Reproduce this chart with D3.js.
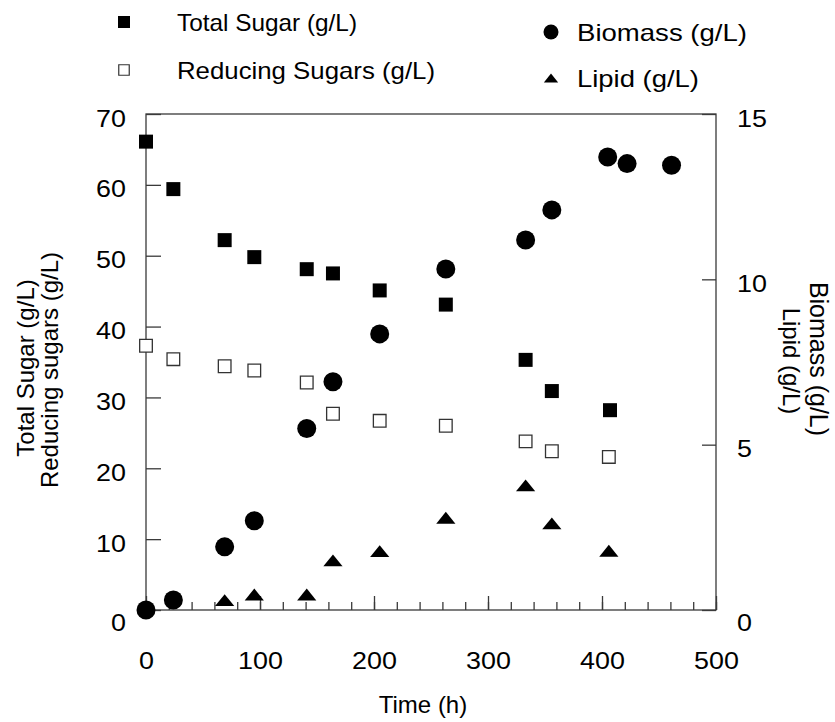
<!DOCTYPE html>
<html>
<head>
<meta charset="utf-8">
<script src="https://cdn.jsdelivr.net/npm/d3@7"></script>
<style>
  html, body { margin: 0; padding: 0; background: #fff; }
  svg text { font-family: "Liberation Sans", Arial, sans-serif; fill: #000; }
</style>
</head>
<body>
<svg id="chart" width="835" height="722"></svg>
<script>
// Fermentation time course: sugars on the left axis, biomass and lipid on the right axis
const totalSugarTime = [0, 24, 69, 95, 141, 164, 205, 263, 333, 356, 407];
const totalSugar     = [66.1, 59.4, 52.2, 49.8, 48.1, 47.5, 45.1, 43.1, 35.3, 30.9, 28.2];

const reducingTime   = [0, 24, 69, 95, 141, 164, 205, 263, 333, 356, 406];
const reducingSugars = [37.3, 35.4, 34.4, 33.8, 32.1, 27.7, 26.7, 26.0, 23.8, 22.4, 21.6];

const biomassTime    = [0, 24, 69, 95, 141, 164, 205, 263, 333, 356, 405, 422, 461];
const biomass        = [0.0, 0.3, 1.91, 2.7, 5.49, 6.9, 8.35, 10.31, 11.19, 12.1, 13.7, 13.5, 13.45];

const lipidTime      = [69, 95, 141, 164, 205, 263, 333, 356, 406];
const lipid          = [0.3, 0.47, 0.47, 1.5, 1.78, 2.79, 3.77, 2.62, 1.79];

const xMajorTicks  = [0, 100, 200, 300, 400, 500];
const xMinorTicks  = d3.range(0, 501, 20);
const yLeftTicks   = [0, 10, 20, 30, 40, 50, 60, 70];
const yRightTicks  = [0, 5, 10, 15];

const legendLeft  = ["Total Sugar (g/L)", "Reducing Sugars (g/L)"];
const legendRight = ["Biomass (g/L)", "Lipid (g/L)"];
const legendLeftWidth  = [180, 258];
const legendRightWidth = [170, 122];

const svg = d3.select("#chart");
const FONT = 24;
const DIGIT_STRETCH = 1.12;   // numerals are set slightly wide

const x  = d3.scaleLinear().domain([0, 500]).range([146, 716]);
const yL = d3.scaleLinear().domain([0, 70]).range([610, 114]);
const yR = d3.scaleLinear().domain([0, 15]).range([610, 114]);

// flat triangle marker
const flatTriangle = {
  draw(ctx, size) {
    const w = Math.sqrt(size) * 1.6, h = w * 0.62;
    ctx.moveTo(0, -h / 2);
    ctx.lineTo(w / 2, h / 2);
    ctx.lineTo(-w / 2, h / 2);
    ctx.closePath();
  }
};

// frame
const axisColor = "#3a3a3a";
svg.append("rect")
  .attr("x", x(0)).attr("y", yL(70))
  .attr("width", x(500) - x(0)).attr("height", yL(0) - yL(70))
  .attr("fill", "none").attr("stroke", axisColor).attr("stroke-width", 1.3);

function styleAxis(g) {
  g.select(".domain").remove();
  g.selectAll(".tick line").attr("stroke", axisColor).attr("stroke-width", 1.3);
  g.selectAll("text").attr("font-size", FONT).attr("font-family", "Liberation Sans, Arial, sans-serif").attr("fill", "#000")
    .each(function () {
      const t = d3.select(this);
      const tx = +(t.attr("x") || 0);
      t.attr("x", tx / DIGIT_STRETCH).attr("transform", `scale(${DIGIT_STRETCH},1)`);
    });
}

// x axis: minor and major ticks pointing inward
svg.append("g").attr("transform", `translate(0,${yL(0)})`)
  .call(d3.axisBottom(x).tickValues(xMinorTicks).tickSize(-8).tickFormat(""))
  .call(styleAxis);
svg.append("g").attr("transform", `translate(0,${yL(0)})`)
  .call(d3.axisBottom(x).tickValues(xMajorTicks).tickSize(-14).tickPadding(42).tickFormat(d3.format("d")))
  .call(styleAxis);

// left axis (the zero label sits a little lower, clear of the x axis)
svg.append("g").attr("transform", `translate(${x(0)},0)`)
  .call(d3.axisLeft(yL).tickValues(yLeftTicks).tickSize(-15).tickPadding(20).tickFormat(d3.format("d")))
  .call(styleAxis)
  .selectAll("text").attr("dy", d => d === 0 ? "0.85em" : "0.5em");

// right axis
svg.append("g").attr("transform", `translate(${x(500)},0)`)
  .call(d3.axisRight(yR).tickValues(yRightTicks).tickSize(-14).tickPadding(21).tickFormat(d3.format("d")))
  .call(styleAxis)
  .selectAll("text").attr("dy", d => d === 0 ? "0.85em" : "0.5em");

// axis titles
svg.append("text").attr("x", 423).attr("y", 713).attr("text-anchor", "middle")
  .attr("font-size", FONT).text("Time (h)");

svg.append("text").attr("transform", "translate(34,368) rotate(-90)").attr("text-anchor", "middle")
  .attr("font-size", FONT).text("Total Sugar (g/L)");
svg.append("text").attr("transform", "translate(58,370) rotate(-90)").attr("text-anchor", "middle")
  .attr("font-size", FONT).text("Reducing sugars (g/L)");

svg.append("text").attr("transform", "translate(810,359) rotate(90)").attr("text-anchor", "middle")
  .attr("font-size", 25).text("Biomass (g/L)");
svg.append("text").attr("transform", "translate(783,361) rotate(90)").attr("text-anchor", "middle")
  .attr("font-size", FONT).text("Lipid (g/L)");

// data markers
const plot = svg.append("g");

plot.selectAll(".ts").data(totalSugarTime.map((t, i) => [t, totalSugar[i]])).join("path")
  .attr("d", d3.symbol().type(d3.symbolSquare).size(196)())
  .attr("transform", d => `translate(${x(d[0])},${yL(d[1])})`)
  .attr("fill", "#000");

plot.selectAll(".rs").data(reducingTime.map((t, i) => [t, reducingSugars[i]])).join("path")
  .attr("d", d3.symbol().type(d3.symbolSquare).size(160)())
  .attr("transform", d => `translate(${x(d[0])},${yL(d[1])})`)
  .attr("fill", "#fff").attr("stroke", "#333").attr("stroke-width", 1.3);

plot.selectAll(".bm").data(biomassTime.map((t, i) => [t, biomass[i]])).join("circle")
  .attr("cx", d => x(d[0])).attr("cy", d => yR(d[1])).attr("r", 9.5)
  .attr("fill", "#000");

plot.selectAll(".lp").data(lipidTime.map((t, i) => [t, lipid[i]])).join("path")
  .attr("d", d3.symbol().type(flatTriangle).size(144)())
  .attr("transform", d => `translate(${x(d[0])},${yR(d[1])})`)
  .attr("fill", "#000");

// legend
const leg = svg.append("g");
leg.append("path").attr("d", d3.symbol().type(d3.symbolSquare).size(144)())
  .attr("transform", "translate(124,22)").attr("fill", "#000");
leg.append("path").attr("d", d3.symbol().type(d3.symbolSquare).size(110)())
  .attr("transform", "translate(124,70)").attr("fill", "#fff").attr("stroke", "#333").attr("stroke-width", 1.2);
leg.append("circle").attr("cx", 551).attr("cy", 32).attr("r", 7.5).attr("fill", "#000");
leg.append("path").attr("d", d3.symbol().type(flatTriangle).size(80)())
  .attr("transform", "translate(551,78)").attr("fill", "#000");

leg.selectAll(".ll").data(legendLeft).join("text")
  .attr("x", 177).attr("y", (d, i) => 22 + i * 48).attr("dy", "0.36em")
  .attr("font-size", FONT)
  .attr("textLength", (d, i) => legendLeftWidth[i]).attr("lengthAdjust", "spacingAndGlyphs")
  .text(d => d);
leg.selectAll(".lr").data(legendRight).join("text")
  .attr("x", 577).attr("y", (d, i) => 32 + i * 46).attr("dy", "0.36em")
  .attr("font-size", FONT)
  .attr("textLength", (d, i) => legendRightWidth[i]).attr("lengthAdjust", "spacingAndGlyphs")
  .text(d => d);
</script>
</body>
</html>
